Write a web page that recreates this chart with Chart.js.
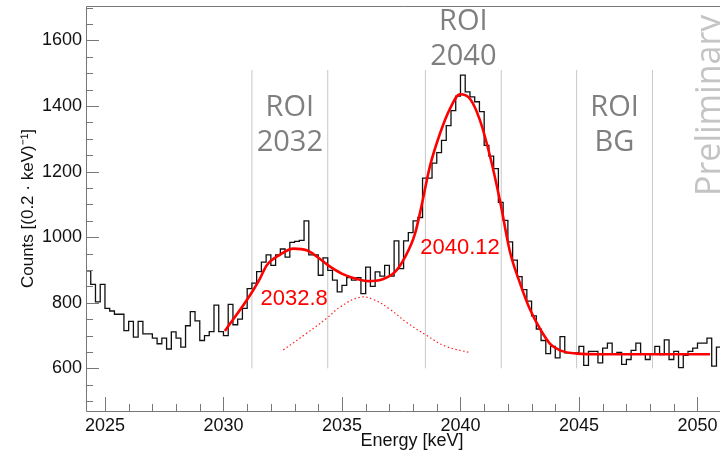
<!DOCTYPE html>
<html>
<head>
<meta charset="utf-8">
<title>ROI spectrum</title>
<script src="https://cdn.jsdelivr.net/npm/chart.js@4.4.1/dist/chart.umd.min.js"></script>
<style>
  html, body { margin: 0; padding: 0; background: #fff; }
  #wrap { width: 720px; height: 460px; }
</style>
</head>
<body>
<div id="wrap"><canvas id="spectrum" width="720" height="460"></canvas></div>
<script>
// histogram: 0.2 keV bins starting at 2024.2 keV
const binStart = 2024.2;
const binWidth = 0.2;
const counts = [
  897, 856, 803, 856, 783, 775, 765, 765, 715, 743,
  695, 743, 705, 705, 692, 675, 692, 659, 711, 692,
  665, 730, 773, 745, 685, 700, 712, 793, 712, 700,
  795, 733, 750, 783, 843, 860, 895, 924, 946, 914,
  946, 964, 939, 984, 987, 990, 1050, 946, 946, 884,
  937, 899, 869, 833, 853, 877, 869, 877, 828, 909,
  850, 894, 881, 914, 881, 989, 904, 989, 1014, 1050,
  1060, 1180, 1180, 1226, 1258, 1295, 1340, 1386, 1430, 1494,
  1443, 1428, 1413, 1383, 1280, 1247, 1209, 1106, 1051, 986,
  930, 880, 840, 805, 760, 720, 685, 645, 667, 632,
  697, 647, 647, 647, 667, 609, 652, 652, 617, 662,
  677, 645, 649, 612, 627, 655, 677, 645, 627, 645,
  667, 642, 687, 627, 652, 602, 640, 652, 662, 677,
  677, 692, 607, 665
];

// fitted curve
const fitEnergy = [2030.06, 2031.12, 2031.54, 2031.82, 2032.39, 2032.95, 2033.51, 2033.99,
  2034.42, 2034.99, 2035.55, 2036.11, 2036.68, 2037.24, 2037.66, 2038.08, 2038.34, 2038.71,
  2039.14, 2039.56, 2039.98, 2040.40, 2040.82, 2041.25, 2041.67, 2042.09, 2042.51, 2042.93,
  2043.36, 2043.78, 2044.20, 2044.92, 2045.89, 2048.0, 2050.53];
const fitCounts = [714, 823, 874, 914, 947, 965, 960, 938,
  914, 889, 874, 866, 871, 894, 939, 1010, 1090, 1216,
  1317, 1392, 1436, 1422, 1357, 1246, 1110, 955, 860, 780,
  720, 675, 655, 645, 643, 643, 643];

// dotted component
const compEnergy = [2032.52, 2033.51, 2034.36, 2034.92, 2035.76, 2036.32, 2037.03, 2037.73, 2038.58, 2039.35, 2040.40];
const compCounts = [656, 707, 753, 787, 817, 810, 780, 740, 700, 668, 648];

// region-of-interest boundaries
const roiEdges = [2031.2, 2034.4, 2038.52, 2041.72, 2044.9, 2048.1];
const roiSpan = [600, 1510];

const roiText = [['ROI', '2032'], ['ROI', '2040'], ['ROI', 'BG']];
const roiTextX = [2032.8, 2040.12, 2046.5];
const roiTextY = [[1394, 1287], [1656, 1549], [1394, 1287]];

const peakText = ['2032.8', '2040.12'];
const peakTextX = [2032.98, 2039.98];
const peakTextY = [812, 967];

const xMajor = [2025, 2030, 2035, 2040, 2045, 2050];
const yMajor = [600, 800, 1000, 1200, 1400, 1600];

const histPoints = counts.map((c, i) => ({ x: binStart + i * binWidth, y: c }));
histPoints.push({ x: binStart + counts.length * binWidth, y: counts[counts.length - 1] });

const roiSets = roiEdges.map(e => ({
  data: [{ x: e, y: roiSpan[0] }, { x: e, y: roiSpan[1] }],
  borderColor: '#c8c8c8',
  borderWidth: 1,
  pointRadius: 0,
  order: 5
}));

const frameTicks = {
  id: 'frameTicks',
  afterDatasetsDraw(chart) {
    const { ctx, chartArea: a, scales: { x, y } } = chart;
    ctx.save();
    ctx.strokeStyle = '#777';
    ctx.lineWidth = 1;
    ctx.beginPath();
    ctx.moveTo(a.right, a.top + 0.5);
    ctx.lineTo(a.left + 0.5, a.top + 0.5);
    ctx.lineTo(a.left + 0.5, a.bottom + 0.5);
    ctx.lineTo(a.right, a.bottom + 0.5);
    for (let v = 2025; v <= 2050; v++) {
      const px = Math.round(x.getPixelForValue(v)) + 0.5;
      const len = v % 5 === 0 ? 14 : 7;
      ctx.moveTo(px, a.bottom);
      ctx.lineTo(px, a.bottom - len);
    }
    for (let v = 500; v <= 1700; v += 50) {
      const py = Math.round(y.getPixelForValue(v)) + 0.5;
      const len = v % 200 === 0 ? 13 : 7;
      ctx.moveTo(a.left, py);
      ctx.lineTo(a.left + len, py);
    }
    ctx.stroke();

    // annotations
    ctx.textAlign = 'center';
    ctx.textBaseline = 'middle';
    ctx.fillStyle = '#7f7f7f';
    ctx.font = '29px "Open Sans"';
    roiText.forEach((lines, i) => {
      lines.forEach((t, j) => {
        ctx.fillText(t, x.getPixelForValue(roiTextX[i]), y.getPixelForValue(roiTextY[i][j]));
      });
    });
    ctx.fillStyle = '#ff0000';
    ctx.font = '22px "Liberation Sans"';
    peakText.forEach((t, i) => {
      ctx.fillText(t, x.getPixelForValue(peakTextX[i]), y.getPixelForValue(peakTextY[i]));
    });

    ctx.fillStyle = '#111';
    ctx.font = '18px "Liberation Sans"';
    ctx.fillText('Energy [keV]', 412, 441);

    ctx.translate(720, 196);
    ctx.rotate(-Math.PI / 2);
    ctx.textAlign = 'left';
    ctx.textBaseline = 'alphabetic';
    ctx.fillStyle = '#c4c4c4';
    ctx.font = '34px "Open Sans"';
    ctx.fillText('Preliminary', 0, 0);
    ctx.restore();
  }
};

new Chart(document.getElementById('spectrum'), {
  type: 'line',
  data: {
    datasets: [
      {
        data: fitEnergy.map((e, i) => ({ x: e, y: fitCounts[i] })),
        borderColor: '#ff0000',
        borderWidth: 2.6,
        pointRadius: 0,
        cubicInterpolationMode: 'monotone',
        order: 0
      },
      {
        data: compEnergy.map((e, i) => ({ x: e, y: compCounts[i] })),
        borderColor: '#ff2020',
        borderWidth: 1.2,
        borderDash: [1.5, 2.5],
        pointRadius: 0,
        tension: 0.4,
        order: 2
      },
      {
        data: histPoints,
        stepped: 'before',
        borderColor: '#111',
        borderWidth: 1.3,
        pointRadius: 0,
        order: 1
      },
      ...roiSets
    ]
  },
  options: {
    responsive: false,
    animation: false,
    devicePixelRatio: 1,
    layout: { padding: { top: 6, right: 0, left: 0, bottom: 0 } },
    plugins: { legend: { display: false }, tooltip: { enabled: false } },
    scales: {
      x: {
        type: 'linear',
        min: 2024.2,
        max: 2050.95,
        grid: { display: false, drawTicks: false },
        border: { display: false },
        afterBuildTicks: s => { s.ticks = xMajor.map(v => ({ value: v })); },
        afterFit: s => { s.height = 49; s.paddingLeft = 0; s.paddingRight = 0; },
        ticks: {
          padding: 4,
          color: '#111',
          font: { family: 'Liberation Sans', size: 18 },
          maxRotation: 0,
          callback: v => String(v)
        }
      },
      y: {
        min: 470,
        max: 1705,
        grid: { display: false, drawTicks: false },
        border: { display: false },
        afterBuildTicks: s => { s.ticks = yMajor.map(v => ({ value: v })); },
        afterFit: s => { s.width = 86; s.paddingTop = 0; s.paddingBottom = 0; },
        ticks: {
          padding: 4,
          color: '#111',
          font: { family: 'Liberation Sans', size: 18 },
          callback: v => String(v)
        },
        title: {
          display: true,
          text: 'Counts [(0.2 · keV)⁻¹]',
          color: '#111',
          font: { family: 'Liberation Sans', size: 17 },
          padding: { top: 18, bottom: 0 }
        }
      }
    }
  },
  plugins: [frameTicks]
});
</script>
</body>
</html>
